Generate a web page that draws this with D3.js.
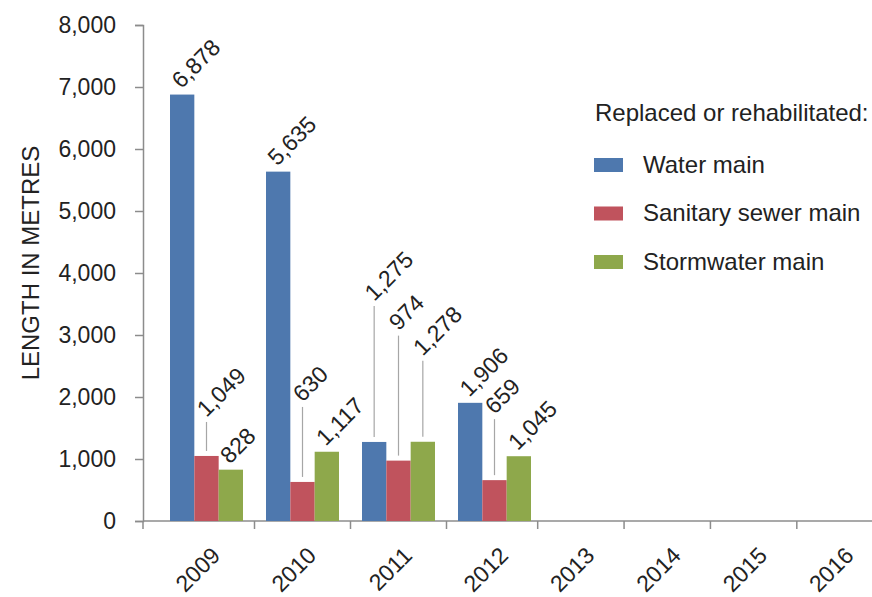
<!DOCTYPE html>
<html>
<head>
<meta charset="utf-8">
<script src="https://cdn.jsdelivr.net/npm/d3@7"></script>
<style>
  html, body { margin: 0; padding: 0; background: #fff; }
  svg { display: block; }
  text { font-family: "Liberation Sans", Arial, Helvetica, sans-serif; fill: #222; }
</style>
</head>
<body>
<svg id="chart" width="872" height="597"></svg>
<script>
// ---- data ----
const years = ["2009", "2010", "2011", "2012", "2013", "2014", "2015", "2016"];
const seriesNames = ["Water main", "Sanitary sewer main", "Stormwater main"];
const waterMain    = [6878, 5635, 1275, 1906];
const sanitarySewer = [1049, 630, 974, 659];
const stormwater   = [828, 1117, 1278, 1045];
const yTicks = [0, 1000, 2000, 3000, 4000, 5000, 6000, 7000, 8000];
const legendTitle = "Replaced or rehabilitated:";
const yTitle = "LENGTH IN METRES";
// layout: extra lift (px) of data labels that use leader lines, per series per year
const labelLift = [
  [0, 0, 132, 0],
  [30, 71, 121, 57],
  [0, 0, 77, 0]
];
const colors = ["#4e78ae", "#c0535d", "#8ea84b"];

const seriesValues = [waterMain, sanitarySewer, stormwater];

// ---- layout ----
const svg = d3.select("#chart");
const plot = { left: 143, right: 872, top: 25, bottom: 521 };

const y = d3.scaleLinear().domain([0, 8000]).range([plot.bottom, plot.top]);
// category centres (index -> px), piecewise as in the reference
const xc = d3.scaleLinear().domain([0, 3, 7]).range([206.5, 494.5, 840]);
const inner = d3.scaleBand().domain(seriesNames).range([-36.5, 36.5]).padding(0);

const fmt = d3.format(",");
const axisColor = "#8c8c8c";
const numFont = "23px";
const wordFont = "24px";

// ---- y axis ----
const yAxis = d3.axisLeft(y).tickValues(yTicks).tickFormat(fmt).tickSize(8).tickPadding(19);
const gy = svg.append("g").attr("transform", `translate(${plot.left},0)`).call(yAxis);
gy.select(".domain").attr("stroke", axisColor).attr("stroke-width", 1.5);
gy.selectAll(".tick line").attr("stroke", axisColor).attr("stroke-width", 1.5);
gy.selectAll(".tick text").style("font-size", numFont).attr("fill", "#222")
  .style("font-family", "'Liberation Sans', Arial, sans-serif");

svg.append("text")
  .attr("transform", `translate(39, 263) rotate(-90)`)
  .attr("text-anchor", "middle")
  .style("font-size", wordFont)
  .text(yTitle);

// ---- x axis ----
const gx = svg.append("g");
gx.append("line")
  .attr("x1", plot.left).attr("x2", plot.right)
  .attr("y1", plot.bottom).attr("y2", plot.bottom)
  .attr("stroke", axisColor).attr("stroke-width", 1.5);
const tickPos = [plot.left].concat(d3.range(1, years.length).map(i => xc(i - 0.5)));
gx.selectAll("line.xt").data(tickPos).join("line")
  .attr("class", "xt")
  .attr("x1", d => d).attr("x2", d => d)
  .attr("y1", plot.bottom).attr("y2", plot.bottom + 8)
  .attr("stroke", axisColor).attr("stroke-width", 1.5);
gx.selectAll("text.yr").data(years).join("text")
  .attr("class", "yr")
  .attr("text-anchor", "end")
  .attr("transform", (d, i) => `translate(${xc(i) + 15}, 557) rotate(-45)`)
  .style("font-size", numFont)
  .text(d => d);

// ---- bars ----
const barData = [];
seriesValues.forEach((vals, s) => {
  vals.forEach((v, i) => {
    barData.push({ s, i, v, name: seriesNames[s], lift: labelLift[s][i] });
  });
});

const cxOf = d => xc(d.i) + inner(d.name) + inner.bandwidth() / 2;

svg.append("g").selectAll("rect").data(barData).join("rect")
  .attr("x", d => xc(d.i) + inner(d.name))
  .attr("width", inner.bandwidth())
  .attr("y", d => y(d.v))
  .attr("height", d => y(0) - y(d.v))
  .attr("fill", d => colors[d.s]);

// leader lines
svg.append("g").selectAll("line").data(barData.filter(d => d.lift > 0)).join("line")
  .attr("x1", cxOf).attr("x2", cxOf)
  .attr("y1", d => y(d.v) - 5)
  .attr("y2", d => y(d.v) - 8 - d.lift + 4)
  .attr("stroke", "#a6a6a6").attr("stroke-width", 1.2);

// data labels
svg.append("g").selectAll("text").data(barData).join("text")
  .attr("text-anchor", "start")
  .attr("transform", d => {
    const sx = d.lift > 0 ? cxOf(d) : cxOf(d) - 1;
    const sy = d.lift > 0 ? y(d.v) - 8 - d.lift : y(d.v) - 5;
    return `translate(${sx}, ${sy}) rotate(-45)`;
  })
  .style("font-size", numFont)
  .text(d => fmt(d.v));

// ---- legend ----
const lg = svg.append("g");
lg.append("text").attr("x", 595).attr("y", 121).style("font-size", wordFont).text(legendTitle);
const li = lg.selectAll("g.li").data(seriesNames).join("g")
  .attr("class", "li")
  .attr("transform", (d, i) => `translate(594, ${158 + i * 48.5})`);
li.append("rect").attr("width", 29).attr("height", 14).attr("fill", (d, i) => colors[i]);
li.append("text").attr("x", 49).attr("y", 14.5).style("font-size", wordFont).text(d => d);
</script>
</body>
</html>
